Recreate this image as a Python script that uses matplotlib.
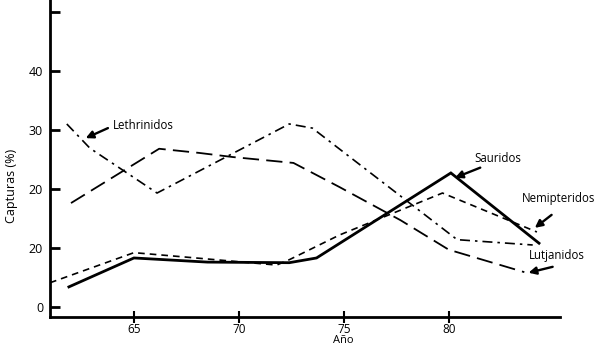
import matplotlib
matplotlib.use("Agg")
import matplotlib.pyplot as plt

# values (year, % of catch)
leth_years = [61.8, 62.9, 66.1, 72.4, 73.5, 80.4, 84.0]
leth_vals = [31.0, 26.9, 19.3, 31.0, 30.3, 11.4, 10.5]

lutj_years = [62.0, 66.2, 68.1, 69.7, 72.6, 74.8, 77.7, 80.0, 83.6]
lutj_vals = [17.6, 26.8, 26.1, 25.4, 24.4, 20.3, 14.7, 9.7, 5.9]

saur_years = [61.9, 65.0, 68.5, 72.4, 73.7, 80.1, 84.3]
saur_vals = [3.4, 8.3, 7.6, 7.5, 8.3, 22.7, 10.8]

nemi_years = [61.0, 65.0, 67.3, 71.8, 72.4, 74.8, 79.7, 84.2]
nemi_vals = [4.1, 9.2, 8.5, 7.1, 8.0, 12.2, 19.3, 12.7]

x_ticks = [65, 70, 75, 80]
y_ticks = [0, 10, 20, 30, 40, 50]
y_tick_labels = ["0", "20", "20", "30", "40", ""]

plt.rcParams["font.family"] = ["Open Sans", "DejaVu Sans"]

fig = plt.figure(figsize=(6.0, 3.49), dpi=100)
ax = fig.add_axes([50 / 600, 32 / 349, 510 / 600, 317 / 349])

ax.plot(leth_years, leth_vals, color="black", lw=1.2, linestyle=(0, (6, 3, 1.5, 3)))
ax.plot(lutj_years, lutj_vals, color="black", lw=1.3, linestyle=(0, (9, 4)))
ax.plot(nemi_years, nemi_vals, color="black", lw=1.2, linestyle=(0, (4, 3)))
ax.plot(saur_years, saur_vals, color="black", lw=2.0, solid_joinstyle="miter")

ax.set_xlim(61.0, 85.3)
ax.set_ylim(-1.7, 52)

for side in ("top", "right"):
    ax.spines[side].set_visible(False)
for side in ("left", "bottom"):
    ax.spines[side].set_linewidth(2)

ax.set_xticks(x_ticks)
ax.set_yticks(y_ticks)
ax.set_yticklabels(y_tick_labels)
ax.tick_params(axis="y", direction="in", length=7, width=2, labelsize=9, pad=5)
ax.tick_params(axis="x", direction="inout", length=8, width=1.5, labelsize=8.5, pad=0)

ax.set_xlabel("Año", fontsize=8)
ax.set_ylabel("Capturas (%)", fontsize=9)
ax.xaxis.set_label_coords(0.575, -0.058)
ax.yaxis.set_label_coords(-0.062, 0.415)

arrow = dict(arrowstyle="-|>", lw=1.7, color="black", mutation_scale=11, shrinkA=0, shrinkB=0)

labels = [
    ("Lethrinidos", (64.0, 30.8), (63.76, 30.3), (62.7, 28.6)),
    ("Sauridos", (81.2, 25.1), (81.5, 23.6), (80.3, 21.9)),
    ("Nemipteridos", (83.5, 18.3), (84.9, 15.6), (84.1, 13.4)),
    ("Lutjanidos", (83.8, 8.8), (84.95, 6.8), (83.8, 5.8)),
]
for name, txt_pos, tail, head in labels:
    ax.text(txt_pos[0], txt_pos[1], name, fontsize=8.3, ha="left", va="center", clip_on=False)
    ax.annotate("", xy=head, xytext=tail, arrowprops=arrow, annotation_clip=False)

fig.savefig("out.png", dpi=100)
